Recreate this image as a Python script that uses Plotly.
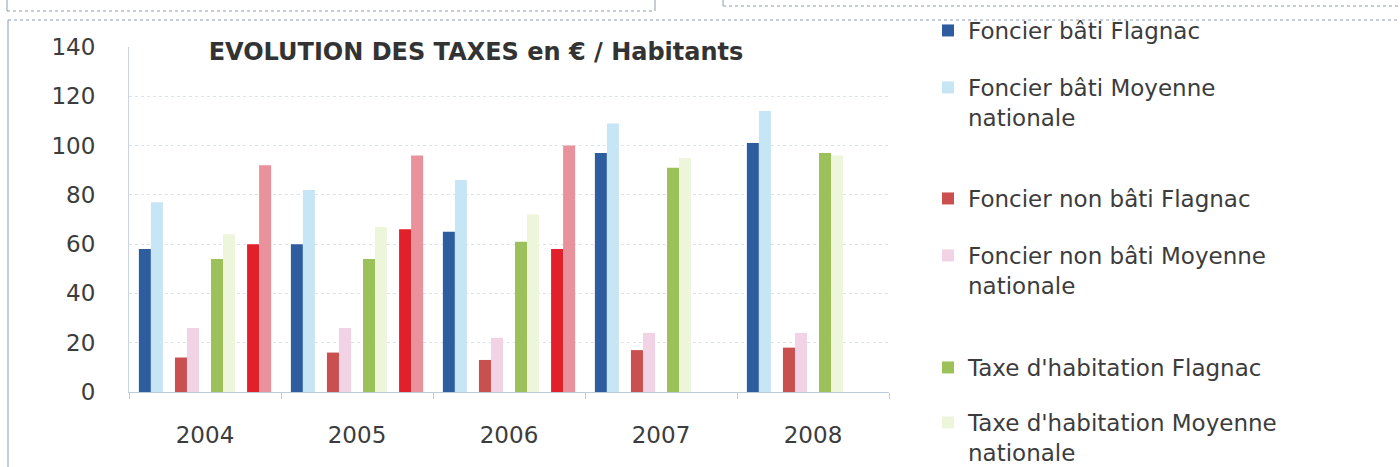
import plotly.graph_objects as go

years = ["2004", "2005", "2006", "2007", "2008"]

foncier_bati_flagnac = [58, 60, 65, 97, 101]
foncier_bati_moyenne = [77, 82, 86, 109, 114]
foncier_non_bati_flagnac = [14, 16, 13, 17, 18]
foncier_non_bati_moyenne = [26, 26, 22, 24, 24]
taxe_habitation_flagnac = [54, 54, 61, 91, 97]
taxe_habitation_moyenne = [64, 67, 72, 95, 96]
taxe_pro_flagnac = [60, 66, 58, None, None]
taxe_pro_moyenne = [92, 96, 100, None, None]
blank = [None, None, None, None, None]

y_ticks = [0, 20, 40, 60, 80, 100, 120, 140]

W, H = 1400, 467
FONT = "DejaVu Sans"
TXT = "#3c3c3c"

series = [
    ("Foncier bâti Flagnac", foncier_bati_flagnac, "#2D5D9E", "legend", 30),
    ("Foncier bâti Moyenne<br>nationale", foncier_bati_moyenne, "#C6E6F6", "legend2", 87),
    (None, blank, "#ffffff", None, None),
    ("Foncier non bâti Flagnac", foncier_non_bati_flagnac, "#C9504F", "legend3", 198),
    ("Foncier non bâti Moyenne<br>nationale", foncier_non_bati_moyenne, "#F2D3E6", "legend4", 255),
    (None, blank, "#ffffff", None, None),
    ("Taxe d'habitation Flagnac", taxe_habitation_flagnac, "#9CC15A", "legend5", 367),
    ("Taxe d'habitation Moyenne<br>nationale", taxe_habitation_moyenne, "#EDF5DA", "legend6", 422),
    (None, blank, "#ffffff", None, None),
    ("Taxe professionnelle Flagnac", taxe_pro_flagnac, "#E2202C", None, None),
    ("Taxe professionnelle Moyenne nationale", taxe_pro_moyenne, "#E9929B", None, None),
]

fig = go.Figure()
legend_layouts = {}
for name, vals, color, leg, cy in series:
    kw = {}
    if leg is not None:
        kw["legend"] = leg
        legend_layouts[leg] = dict(
            xref="container", yref="container",
            x=928 / W, y=1 - (cy - 21) / H,
            xanchor="left", yanchor="top",
            bgcolor="rgba(0,0,0,0)", borderwidth=0,
            font=dict(family=FONT, size=23, color=TXT),
            valign="top", itemwidth=30,
            itemclick=False, itemdoubleclick=False,
        )
    fig.add_trace(go.Bar(
        x=years, y=vals, name=name if name else "",
        marker=dict(color=color, line=dict(width=0)),
        showlegend=leg is not None,
        hoverinfo="skip" if name is None else None,
        **kw,
    ))

fig.update_layout(**legend_layouts)

fig.update_layout(
    width=W, height=H,
    margin=dict(l=129, r=W - 889, t=47, b=H - 392),
    paper_bgcolor="white", plot_bgcolor="white",
    barmode="group", bargap=0.13, bargroupgap=0,
    font=dict(family=FONT, color=TXT),
    title=dict(
        text="<b>EVOLUTION DES TAXES en € / Habitants</b>",
        x=476 / W, xanchor="center", xref="container",
        y=1 - 52 / H, yanchor="middle", yref="container",
        font=dict(family=FONT, size=24, color="#333333"),
    ),
    xaxis=dict(
        type="category", showgrid=False,
        showline=True, linecolor="#BCCBDD", linewidth=1,
        ticks="outside", tickson="boundaries", ticklen=6, tickcolor="#BCCBDD",
        tickfont=dict(family=FONT, size=23, color=TXT),
        ticklabelstandoff=22,
    ),
    yaxis=dict(
        range=[0, 140], tickvals=y_ticks,
        showgrid=True, gridcolor="#D9E4EF", griddash="dot", gridwidth=1,
        showline=True, linecolor="#C9D5E3", linewidth=1,
        ticks="", zeroline=False,
        tickfont=dict(family=FONT, size=23, color=TXT),
        ticklabelstandoff=28,
    ),
)

# scanned page frame lines
frame = "#8E9BB2"
for x0, y0, x1, y1 in [
    (7, 0, 7, 11), (7, 11, 655, 11), (655, 0, 655, 11),
    (723, 0, 723, 6), (723, 6, 1400, 6),
    (8, 20, 1400, 20), (8, 20, 8, 467),
]:
    fig.add_shape(type="line", xref="paper", yref="paper",
                  x0=(x0 - 129) / 760, x1=(x1 - 129) / 760,
                  y0=(392 - y0) / 345, y1=(392 - y1) / 345,
                  line=dict(color=frame, width=1, dash="dot" if y0 == y1 else "solid"))

fig.write_html(
    "out.html",
    config={"displayModeBar": False},
    post_script="document.body.style.margin='0';document.body.style.overflow='hidden';",
)
